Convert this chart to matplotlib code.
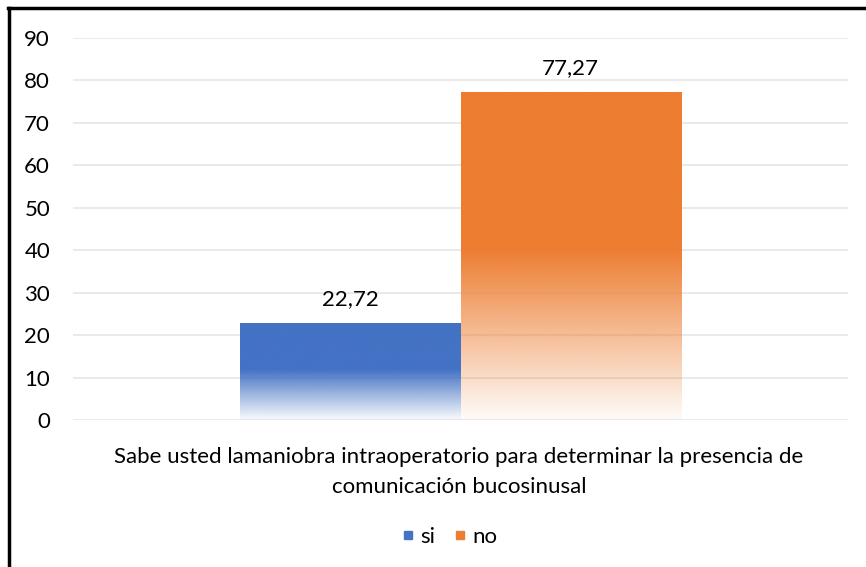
import numpy as np
import matplotlib.pyplot as plt
from matplotlib.lines import Line2D

# datos
series = ["si", "no"]
valores = [22.72, 77.27]
etiquetas = ["22,72", "77,27"]
colores = ["#4472C4", "#ED7D31"]
categoria = "Sabe usted lamaniobra intraoperatorio para determinar la presencia de\ncomunicación bucosinusal"
yticks = [0, 10, 20, 30, 40, 50, 60, 70, 80, 90]

plt.rcParams['font.family'] = ['Lato', 'DejaVu Sans']

fig = plt.figure(figsize=(8.66, 5.67), dpi=100)
ax = fig.add_axes([73/866, 1 - 420/567, 775/866, 382/567])

ancho = 0.284
x0s = [-ancho, 0.0]


def degradado(color, n=256):
    rgb = np.array(plt.matplotlib.colors.to_rgb(color))
    t = np.linspace(0, 1, n)  # 0 arriba, 1 abajo
    alpha = np.where(t < 0.48, 1.0, 1.0 - (t - 0.48) / 0.52 * 0.97)
    img = np.zeros((n, 1, 4))
    img[:, 0, :3] = rgb
    img[:, 0, 3] = alpha
    return img


for x0, v, c, lab in zip(x0s, valores, colores, etiquetas):
    ax.imshow(degradado(c), extent=(x0, x0 + ancho, 0, v), aspect='auto',
              interpolation='bilinear', zorder=3)
    ax.text(x0 + ancho / 2, v + 3.4, lab, ha='center', va='bottom',
            fontsize=16, color='#000000', zorder=4)

ax.set_xlim(-0.5, 0.5)
ax.set_ylim(0, 90)
ax.set_yticks(yticks)
ax.set_xticks([])
ax.grid(axis='y', color='#E6E6E6', linewidth=1.2, zorder=0)
ax.set_axisbelow(True)
for s in ax.spines.values():
    s.set_visible(False)
ax.tick_params(axis='y', length=0, pad=16.5, labelsize=16)
for t in ax.get_yticklabels():
    t.set_ha('right')

fig.text(459/866, 1 - 472/567, categoria, ha='center', va='center',
         fontsize=16, linespacing=1.6)

handles = [Line2D([0], [0], marker='s', linestyle='', markersize=6,
                  markerfacecolor=c, markeredgecolor=c) for c in colores]
fig.legend(handles, series, loc='center', bbox_to_anchor=(447/866, 1 - 537/567),
           ncol=2, frameon=False, fontsize=16, handletextpad=0.05,
           columnspacing=0.6, handlelength=1.0)

# marco negro
fig.add_artist(Line2D([8/866, 1], [1 - 8/567, 1 - 8/567], color='black',
                      linewidth=2.5, transform=fig.transFigure))
fig.add_artist(Line2D([9/866, 9/866], [0, 1 - 8/567], color='black',
                      linewidth=2.5, transform=fig.transFigure))

fig.savefig("out.png", dpi=100)
